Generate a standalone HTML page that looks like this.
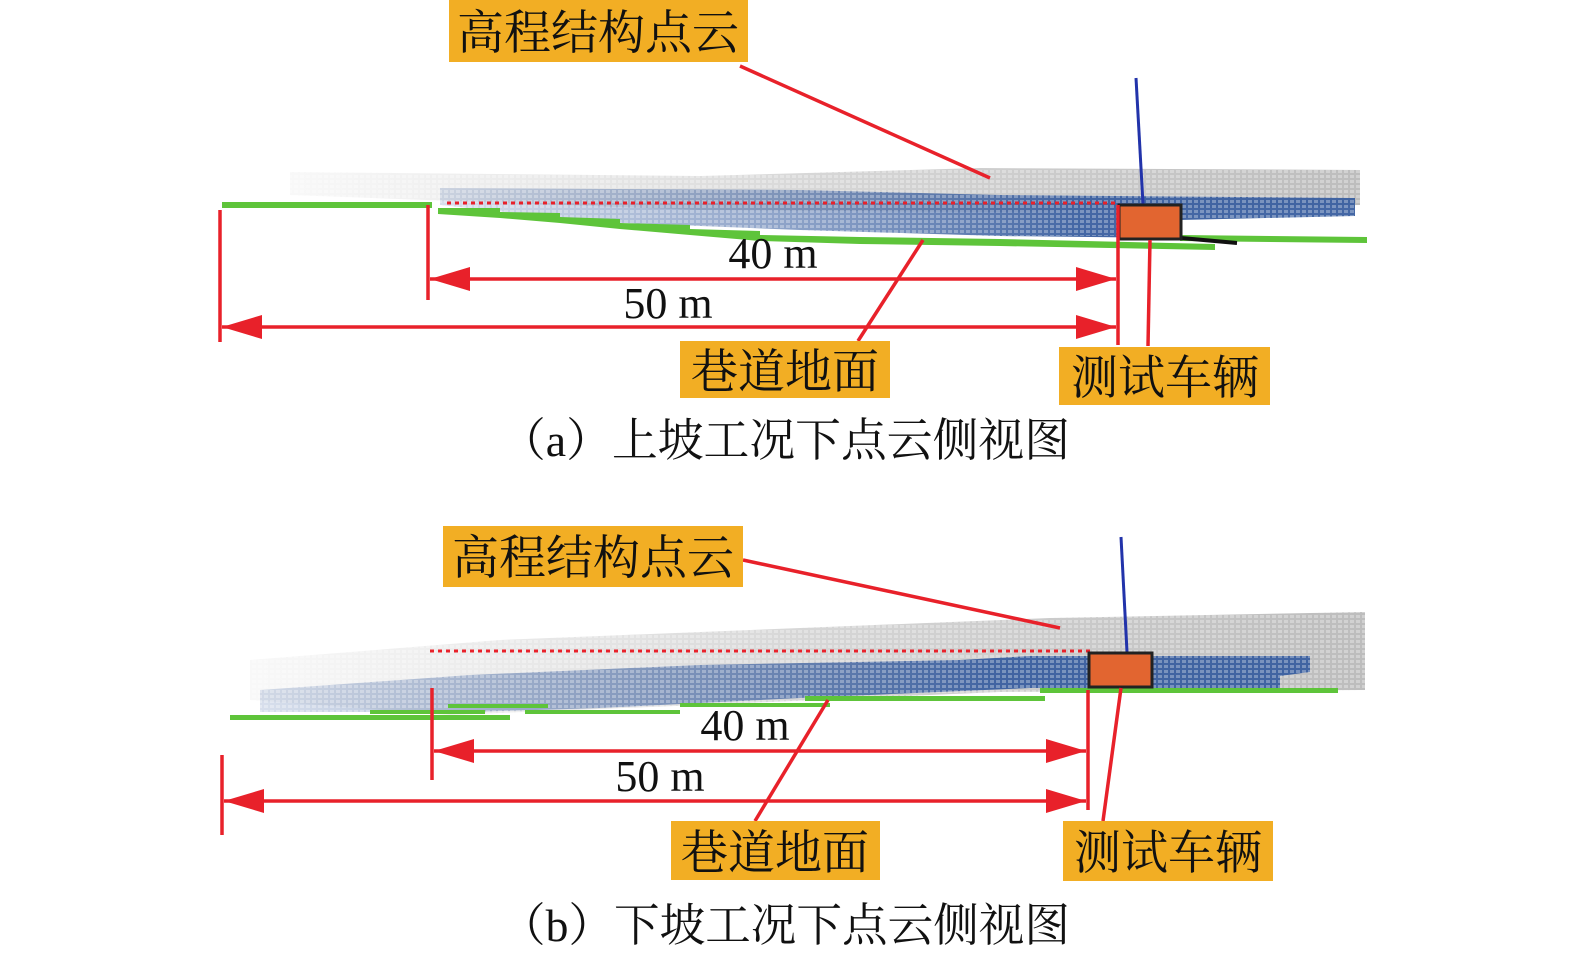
<!DOCTYPE html>
<html><head><meta charset="utf-8"><style>
html,body{margin:0;padding:0;background:#fff;}
svg{display:block;}
text{font-family:"Liberation Serif","Noto Serif CJK SC",serif;fill:#111;}
</style></head><body>
<svg width="1575" height="960" viewBox="0 0 1575 960" xmlns="http://www.w3.org/2000/svg">
<defs>
<linearGradient id="gg" x1="0" x2="1" y1="0" y2="0">
<stop offset="0" stop-color="#aaa" stop-opacity="0.08"/>
<stop offset="0.5" stop-color="#999" stop-opacity="0.4"/>
<stop offset="1" stop-color="#999" stop-opacity="0.65"/>
</linearGradient>
<linearGradient id="bg" x1="0" x2="1" y1="0" y2="0">
<stop offset="0" stop-color="#3a5fa0" stop-opacity="0.2"/>
<stop offset="0.45" stop-color="#3a5fa0" stop-opacity="0.65"/>
<stop offset="0.7" stop-color="#3a5fa0" stop-opacity="0.95"/>
<stop offset="1" stop-color="#3a5fa0" stop-opacity="0.95"/>
</linearGradient>
<pattern id="pt" width="6" height="5" patternUnits="userSpaceOnUse">
<rect x="0" y="0" width="4" height="3" fill="#fff" fill-opacity="0.3"/>
</pattern>
<marker id="ar" viewBox="0 0 40 24" refX="40" refY="12" markerWidth="40" markerHeight="24" markerUnits="userSpaceOnUse" orient="auto-start-reverse">
<path d="M0,0 L40,12 L0,24 Z" fill="#e8212a"/>
</marker>
</defs>

<!-- ========== TOP PANEL ========== -->
<polygon points="290,172 700,176 980,168 1360,170 1360,205 1000,212 700,210 290,195" fill="url(#gg)"/>
<polygon points="440,188 800,190 1000,195 1355,198 1355,216 1180,220 1180,238 1000,236 800,230 600,222 440,205" fill="url(#bg)"/>
<polygon points="290,168 1360,168 1360,236 290,236" fill="url(#pt)"/>
<g fill="#5ec43a">
<rect x="222" y="202" width="210" height="6"/>
<polygon points="438,208 500,208 500,212 560,213 560,217 620,219 620,223 690,225 690,229 760,231 760,235 860,237 1000,239 1215,244 1215,250 1000,246 860,244 760,241 690,235 620,229 560,223 500,218 438,214"/>
<polygon points="1180,235 1367,237 1367,243 1180,241"/>
</g>
<line x1="447" y1="203" x2="1118" y2="203" stroke="#e8212a" stroke-width="3" stroke-dasharray="4,4"/>
<line x1="1136" y1="78" x2="1143" y2="204" stroke="#2233aa" stroke-width="3"/>
<line x1="1181" y1="238" x2="1237" y2="243" stroke="#111" stroke-width="4"/>
<rect x="1119" y="205" width="62" height="34" fill="#e26530" stroke="#222" stroke-width="3"/>
<g stroke="#e8212a" stroke-width="3.5" fill="none">
<line x1="220" y1="210" x2="220" y2="342"/>
<line x1="428" y1="205" x2="428" y2="300"/>
<line x1="1118" y1="205" x2="1118" y2="345"/>
<line x1="430" y1="279" x2="1116" y2="279" marker-start="url(#ar)" marker-end="url(#ar)"/>
<line x1="222" y1="327" x2="1116" y2="327" marker-start="url(#ar)" marker-end="url(#ar)"/>
<line x1="740" y1="66" x2="990" y2="178"/>
<line x1="858" y1="341" x2="923" y2="240"/>
<line x1="1148" y1="346" x2="1150" y2="240"/>
</g>
<text x="773" y="268" font-size="44" text-anchor="middle">40 m</text>
<text x="668" y="318" font-size="44" text-anchor="middle">50 m</text>
<rect x="449" y="0" width="299" height="62" fill="#f2ae24"/>
<text x="598" y="49" font-size="47" text-anchor="middle">高程结构点云</text>
<rect x="680" y="341" width="210" height="57" fill="#f2ae24"/>
<text x="785" y="388" font-size="47" text-anchor="middle">巷道地面</text>
<rect x="1059" y="347" width="211" height="58" fill="#f2ae24"/>
<text x="1165" y="394" font-size="47" text-anchor="middle">测试车辆</text>
<text x="785" y="456" font-size="46" text-anchor="middle" textLength="570" lengthAdjust="spacingAndGlyphs">（a）上坡工况下点云侧视图</text>

<!-- ========== BOTTOM PANEL ========== -->
<polygon points="250,660 500,640 800,628 1050,618 1365,612 1365,690 1000,692 700,705 450,715 250,700" fill="url(#gg)"/>
<polygon points="260,690 470,675 700,665 960,660 1030,656 1310,656 1310,672 1280,676 1280,688 1030,688 800,698 600,708 470,712 260,712" fill="url(#bg)"/>
<polygon points="250,612 1365,612 1365,715 250,715" fill="url(#pt)"/>
<g fill="#5ec43a">
<rect x="230" y="715" width="280" height="5"/>
<rect x="370" y="710" width="115" height="4"/>
<rect x="448" y="704" width="100" height="4"/>
<rect x="525" y="710" width="155" height="4"/>
<rect x="680" y="703" width="150" height="4"/>
<rect x="805" y="696" width="240" height="5"/>
<rect x="1040" y="688" width="298" height="5"/>
</g>
<line x1="430" y1="651" x2="1090" y2="651" stroke="#e8212a" stroke-width="3" stroke-dasharray="4,4"/>
<line x1="1121" y1="537" x2="1127" y2="652" stroke="#2233aa" stroke-width="3"/>
<rect x="1089" y="653" width="63" height="34" fill="#e26530" stroke="#222" stroke-width="3"/>
<g stroke="#e8212a" stroke-width="3.5" fill="none">
<line x1="222" y1="755" x2="222" y2="835"/>
<line x1="432" y1="688" x2="432" y2="780"/>
<line x1="1088" y1="690" x2="1088" y2="810"/>
<line x1="434" y1="751" x2="1086" y2="751" marker-start="url(#ar)" marker-end="url(#ar)"/>
<line x1="224" y1="801" x2="1086" y2="801" marker-start="url(#ar)" marker-end="url(#ar)"/>
<line x1="743" y1="560" x2="1060" y2="628"/>
<line x1="755" y1="821" x2="828" y2="700"/>
<line x1="1103" y1="821" x2="1121" y2="688"/>
</g>
<text x="745" y="740" font-size="44" text-anchor="middle">40 m</text>
<text x="660" y="791" font-size="44" text-anchor="middle">50 m</text>
<rect x="443" y="526" width="300" height="61" fill="#f2ae24"/>
<text x="593" y="574" font-size="47" text-anchor="middle">高程结构点云</text>
<rect x="671" y="821" width="209" height="59" fill="#f2ae24"/>
<text x="775" y="869" font-size="47" text-anchor="middle">巷道地面</text>
<rect x="1063" y="821" width="210" height="60" fill="#f2ae24"/>
<text x="1168" y="869" font-size="47" text-anchor="middle">测试车辆</text>
<text x="785" y="941" font-size="46" text-anchor="middle" textLength="570" lengthAdjust="spacingAndGlyphs">（b）下坡工况下点云侧视图</text>
</svg>
</body></html>
